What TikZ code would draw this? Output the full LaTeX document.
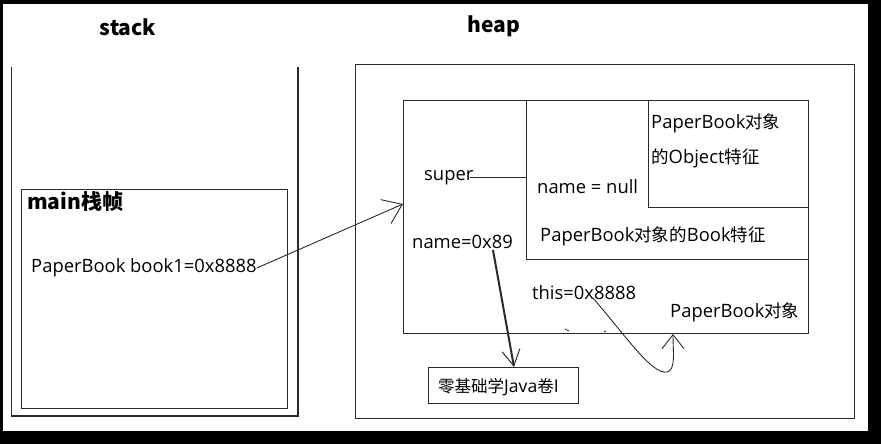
\documentclass[tikz,border=0pt]{standalone}
\usepackage{fontspec}
\setmainfont{Open Sans}
\newfontfamily\cjk{Noto Sans CJK SC}
\newcommand\zhtxt[1]{{\cjk\fontsize{17.5}{20}\selectfont #1}}
\newcommand\zhsmall[1]{{\cjk\fontsize{16.5}{20}\selectfont #1}}
\usetikzlibrary{arrows.meta}
\definecolor{linec}{HTML}{2A2A2A}
\begin{document}
\begin{tikzpicture}[x=1pt,y=-1pt,
  box/.style={draw=linec, line width=1.3pt, inner sep=0pt, anchor=north west},
  txt/.style={font=\fontsize{18.4}{22}\selectfont, inner sep=0pt, anchor=west, text=black},
  ttl/.style={font=\cjk\fontsize{21}{24}\selectfont\bfseries, inner sep=0pt, text=black},
  conn/.style={draw=linec, line width=0.9pt},
]
\useasboundingbox (0,0) rectangle (881,444);
\fill[black] (0,0) rectangle (881,444);
\fill[white] (3,4) rectangle (868,431);

% titles
\node[ttl] (stack) at (128,27) {stack};
\node[ttl] (heap) at (494,26) {heap};

% stack frame
\draw[draw=linec, line width=1.3pt] (11.5,67) -- (11.5,416) -- (298,416) -- (298,67);
\node[box, minimum width=266pt, minimum height=219pt] (main) at (21,189) {};
\node[ttl, anchor=west] (mainlbl) at (27,202) {main栈帧};
\node[txt] (book1) at (31,268) {PaperBook book1=0x8888};

% heap
\node[box, minimum width=499pt, minimum height=354pt] (heapbox) at (355,64) {};
\node[box, minimum width=405pt, minimum height=233pt] (pb) at (403,100) {};
\node[box, minimum width=282pt, minimum height=159pt] (book) at (526,100) {};
\node[box, minimum width=160pt, minimum height=107pt] (obj) at (648,100) {};
\node[box, minimum width=150pt, minimum height=36pt] (java) at (428,367) {};
\node[txt, font=\fontsize{17.6}{21}\selectfont] (javalbl) at (438,387) {\zhsmall{零基础学}Java\zhsmall{卷}I};

\node[txt] (super) at (424,177.5) {super};
\node[txt] (namenull) at (537,187) {name = null};
\node[txt] (name89) at (412,242) {name=0x89};
\node[txt] (obj1) at (651,123) {PaperBook\zhtxt{对象}};
\node[txt] (obj2) at (651,158) {\zhtxt{的}Object\zhtxt{特征}};
\node[txt] (booklbl) at (540,236) {PaperBook\zhtxt{对象的}Book\zhtxt{特征}};
\node[txt] (this) at (532,293) {this=0x8888};
\node[txt] (pblbl) at (670,312) {PaperBook\zhtxt{对象}};

% connector end points
\coordinate (pbin) at (403,204);
\coordinate (superend) at (470,177);
\coordinate (bookin) at (526,177);
\coordinate (n89) at (493,250);
\coordinate (javain) at (514,367);
\coordinate (thisx) at (593,298);
\coordinate (pbbot) at (673,334);

% connectors
\draw[conn, -{Straight Barb[length=18pt,width=26pt]}] (book1.east) -- (pbin);
\draw[conn] (superend) -- (bookin);
\draw[draw=linec, line width=2pt, -{Straight Barb[length=16pt,width=18pt,line width=1pt]}] (n89) -- (javain);
\draw[conn, -{Straight Barb[length=14pt,width=22pt]}] (thisx) .. controls (625,335) and (652,375) .. (667,372)
  .. controls (676,370) and (673,352) .. (pbbot);

% small stray marks on the object's lower edge
\draw[draw=linec, line width=0.8pt] (565,329) -- (569,331);
\draw[draw=linec, line width=0.8pt] (604,331) -- (606,332);
\end{tikzpicture}
\end{document}
